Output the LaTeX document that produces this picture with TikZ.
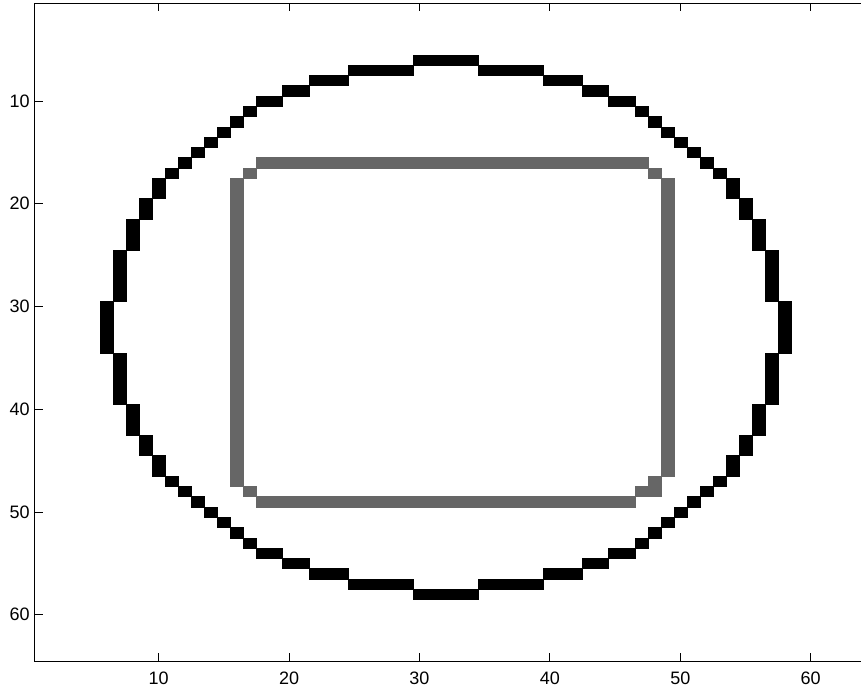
\documentclass[tikz,border=0pt]{standalone}
\usepackage{fontspec}
\setmainfont{Liberation Sans}
\begin{document}
\begin{tikzpicture}[x=1pt,y=1pt,
  cellblk/.style={fill=black,draw=black,line width=0.25pt},
  cellgry/.style={fill=black!60,draw=black!60,line width=0.25pt},
  axisline/.style={draw=black,line width=1pt},
  tickmark/.style={draw=black,line width=0.8pt},
  ticklab/.style={inner sep=0pt,font=\fontsize{18}{20}\selectfont}]
\useasboundingbox (0,0) rectangle (861,-693);
\fill[white] (0,0) rectangle (861,-693);
\begin{scope}[xshift=28.28pt,yshift=1.8385pt,x=13.04pt,y=-10.277pt]
  % black circle outline (digital perimeter)
  \foreach \d/\lo/\hi in {0/26/26,1/26/26,2/26/26,3/25/25,4/25/25,5/25/25,6/25/25,7/25/25,
      8/24/24,9/24/24,10/24/24,11/23/23,12/23/23,13/22/22,14/22/22,15/21/21,16/20/20,
      17/19/19,18/18/18,19/17/17,20/16/16,21/15/15,22/13/14,23/11/12,24/8/10,25/3/7,26/0/2}{
    \foreach \s in {-1,1}{
      \path[cellblk] ({32+\lo-0.5},{32+\s*\d-0.5}) rectangle ({32+\hi+0.5},{32+\s*\d+0.5});
      \path[cellblk] ({32-\hi-0.5},{32+\s*\d-0.5}) rectangle ({32-\lo+0.5},{32+\s*\d+0.5});
    }
  }
  % gray rounded rectangle
  \path[cellgry] (17.5,15.5) rectangle (47.5,16.5);
  \path[cellgry] (16.5,16.5) rectangle (17.5,17.5);
  \path[cellgry] (47.5,16.5) rectangle (48.5,17.5);
  \path[cellgry] (15.5,17.5) rectangle (16.5,47.5);
  \path[cellgry] (48.5,17.5) rectangle (49.5,46.5);
  \path[cellgry] (16.5,47.5) rectangle (17.5,48.5);
  \path[cellgry] (47.5,46.5) rectangle (48.5,48.5);
  \path[cellgry] (46.5,47.5) rectangle (47.5,48.5);
  \path[cellgry] (17.5,48.5) rectangle (46.5,49.5);
  % axes box
  \coordinate (bl) at (0.5,64.5);
  \coordinate (tl) at (0.5,0.5);
  \coordinate (tr) at (64.5,0.5);
  \coordinate (br) at (64.5,64.5);
  \draw[axisline] (bl) -- (tl) -- (tr) -- (br) -- cycle;
  % ticks and labels
  \foreach \t in {10,20,30,40,50,60}{
    \draw[tickmark] (\t,64.5) -- ++(0pt,8pt);
    \draw[tickmark] (\t,0.5) -- ++(0pt,-8pt);
    \draw[tickmark] (0.5,\t) -- ++(8pt,0pt);
    \node[ticklab,anchor=center,yshift=-17pt] (xl\t) at (\t,64.5) {\t};
    \node[ticklab,anchor=east,xshift=-5pt] (yl\t) at (0.5,\t) {\t};
  }
\end{scope}
\end{tikzpicture}
\end{document}
